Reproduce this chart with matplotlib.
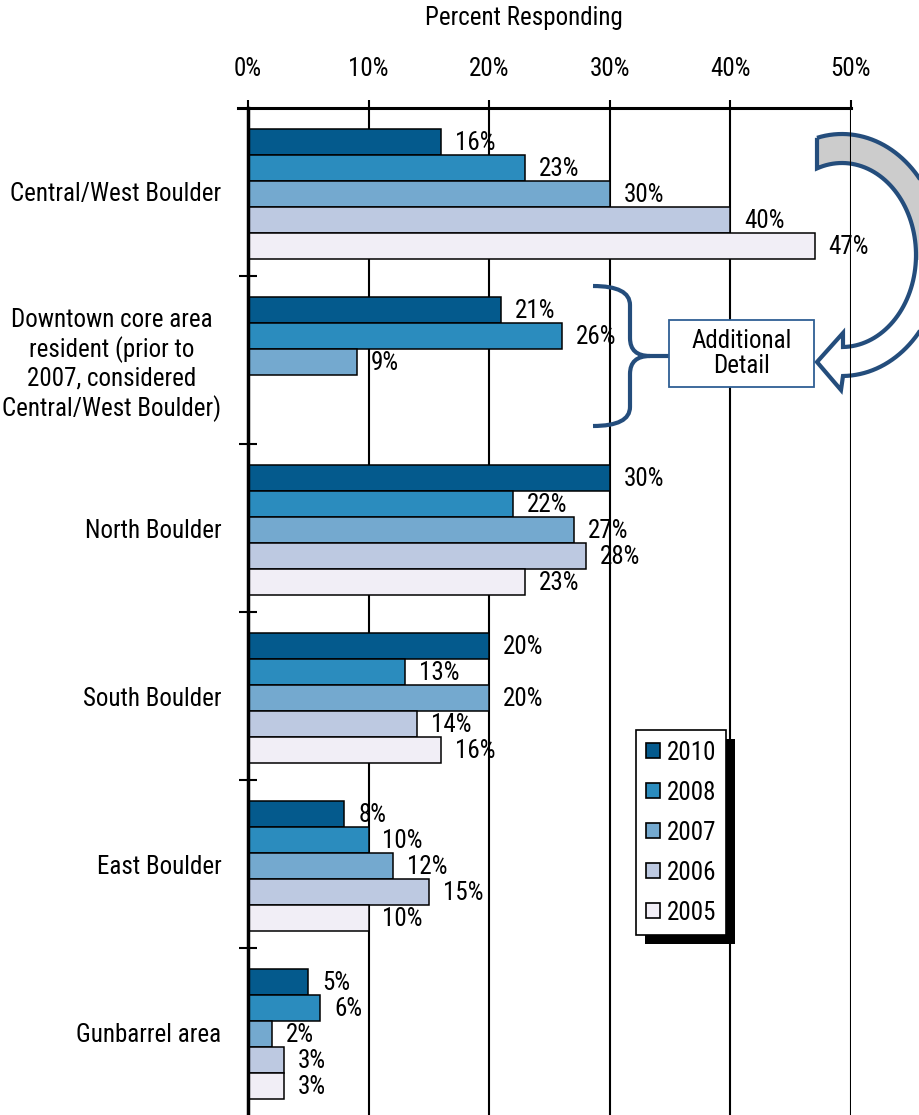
import matplotlib
matplotlib.use("Agg")
import numpy as np
import matplotlib.pyplot as plt
from matplotlib.patches import Patch, Rectangle, Polygon, PathPatch
from matplotlib.path import Path
from matplotlib.transforms import IdentityTransform

plt.rcParams['font.family'] = ['Roboto Condensed', 'Liberation Sans', 'DejaVu Sans']

# Survey results: percent responding by area of residence
areas = ["Central/West Boulder",
         "Downtown core area\nresident (prior to\n2007, considered\nCentral/West Boulder)",
         "North Boulder", "South Boulder", "East Boulder", "Gunbarrel area"]
years = ["2010", "2008", "2007", "2006", "2005"]
pct_2010 = [16, 21, 30, 20, 8, 5]
pct_2008 = [23, 26, 22, 13, 10, 6]
pct_2007 = [30, 9, 27, 20, 12, 2]
pct_2006 = [40, None, 28, 14, 15, 3]
pct_2005 = [47, None, 23, 16, 10, 3]
x_ticks = [0, 10, 20, 30, 40, 50]

series = [pct_2010, pct_2008, pct_2007, pct_2006, pct_2005]
colors = ["#045a8d", "#2b8cbe", "#74a9cf", "#bdc9e1", "#f1eef6"]
outline_blue = "#244d7c"
FS = 18

W, H = 920, 1115
fig = plt.figure(figsize=(W / 100, H / 100), dpi=100)
ax = fig.add_axes([248 / W, 0, (851 - 248) / W, (H - 108) / H])

# one group = 168 px, five bar slots of 26 px each
grp = 168.0
bar_h = 26 / grp
for j, vals in enumerate(series):
    off = (34 + 26 * j) / grp - 0.5
    for i, v in enumerate(vals):
        if v is None:
            continue
        ax.barh(i + off, v, height=bar_h, color=colors[j], edgecolor='black',
                linewidth=1.1, zorder=2)
        ax.annotate(f"{v}%", (v, i + off), xytext=(10, -1), textcoords='offset points',
                    va='center', ha='left', fontsize=FS, zorder=4)

ax.set_xlim(0, 50)
ax.set_ylim(-0.5 + (H - 108) / grp, -0.5)

# axis styling
ax.xaxis.tick_top()
ax.set_xticks(x_ticks)
ax.set_xticklabels([f"{t}%" for t in x_ticks], fontsize=FS)
ax.tick_params(axis='x', direction='out', length=5.8, width=1.5, pad=14, colors='black')
ax.grid(axis='x', color='black', linewidth=1.5)
ax.set_axisbelow(True)

ax.set_yticks(range(len(areas)))
ax.set_yticklabels(areas, fontsize=FS)
for lbl in ax.get_yticklabels():
    lbl.set_multialignment('center')
ax.set_yticks(np.arange(0.5, len(areas) - 1, 1.0), minor=True)
ax.tick_params(axis='y', which='major', length=0, pad=19)
ax.tick_params(axis='y', which='minor', direction='inout', length=13, width=1.5)

for side in ['right', 'bottom']:
    ax.spines[side].set_visible(False)
ax.spines['top'].set_linewidth(2.2)
ax.spines['left'].set_linewidth(2.5)
ax.spines['top'].set_bounds(-10 / 12.06, 50)

fig.text(524 / W, 1 - 18 / H, "Percent Responding", ha='center', va='center', fontsize=FS)

# legend with a hard black drop shadow
handles = [Patch(facecolor=c, edgecolor='black', linewidth=1.2) for c in colors]
leg = ax.legend(handles, years, loc='upper left', bbox_to_anchor=(636 / W, 1 - 730 / H),
                bbox_transform=fig.transFigure, borderaxespad=0, frameon=True,
                fancybox=False, edgecolor='black', framealpha=1, fontsize=FS,
                handlelength=0.55, handleheight=0.55, handletextpad=0.25,
                labelspacing=0.64, borderpad=0.42)
leg.get_frame().set_linewidth(1.2)
leg.set_zorder(6)


def px(x, y):
    # image pixel (y down) -> display coords
    return (x, H - y)


ident = IdentityTransform()

# curved block arrow pointing back to the detail box
cx, cy = 842, 255
ao, bo = 100, 121
ai, bi = 74, 92
t_out0 = np.degrees(np.arccos((817 - cx) / ao))
t_in0 = np.degrees(np.arccos((817 - cx) / ai))
t_out1 = -np.degrees(np.arccos(1 / ao))
t_in1 = -np.degrees(np.arccos(1 / ai))


def ring_pts(a, b, t0, t1, n=80):
    t = np.radians(np.linspace(t0, t1, n))
    return [px(cx + a * np.cos(tt), cy - b * np.sin(tt)) for tt in t]


arrow = (ring_pts(ao, bo, t_out0, t_out1)
         + [px(841, 390), px(817, 362), px(843, 333)]
         + ring_pts(ai, bi, t_in1, t_in0))
shade = ring_pts(ao, bo, t_out0, -3) + ring_pts(ai, bi, -3, t_in0)
ax.add_patch(Polygon(arrow, closed=True, facecolor='white', edgecolor='none',
                     transform=ident, clip_on=False, zorder=0.3))
ax.add_patch(Polygon(shade, closed=True, facecolor='#cccccc', edgecolor='none',
                     transform=ident, clip_on=False, zorder=0.31))
ax.add_patch(Polygon(arrow, closed=True, fill=False, edgecolor=outline_blue, linewidth=3,
                     joinstyle='miter', transform=ident, clip_on=False, zorder=0.32))

# curly brace beside the downtown bars
verts = [px(593, 286), px(630, 286), px(630, 305), px(630, 338), px(630, 356), px(650, 356),
         px(669, 356),
         px(650, 356), px(630, 356), px(630, 374), px(630, 407), px(630, 426), px(593, 426)]
codes = [Path.MOVETO, Path.CURVE3, Path.CURVE3, Path.LINETO, Path.CURVE3, Path.CURVE3,
         Path.LINETO,
         Path.MOVETO, Path.CURVE3, Path.CURVE3, Path.LINETO, Path.CURVE3, Path.CURVE3]
ax.add_patch(PathPatch(Path(verts, codes), fill=False, edgecolor=outline_blue, linewidth=3,
                       transform=ident, clip_on=False, zorder=3))

# "Additional Detail" box
bx, by = px(669, 387)
ax.add_patch(Rectangle((bx, by), 145, 67, facecolor='white', edgecolor='#2f5f94',
                       linewidth=1.3, transform=ident, clip_on=False, zorder=3))
ax.text(bx + 72.5, by + 33.5, "Additional\nDetail", ha='center', va='center',
        fontsize=FS, linespacing=1.1, transform=ident, zorder=4)

# drop shadow behind the legend frame
fig.canvas.draw()
fb = leg.get_frame().get_window_extent()
ax.add_patch(Rectangle((fb.x0 + 9, fb.y0 - 9), fb.width, fb.height, facecolor='black',
                       edgecolor='none', transform=ident, clip_on=False, zorder=5.9))

fig.savefig("out.png", dpi=100)
